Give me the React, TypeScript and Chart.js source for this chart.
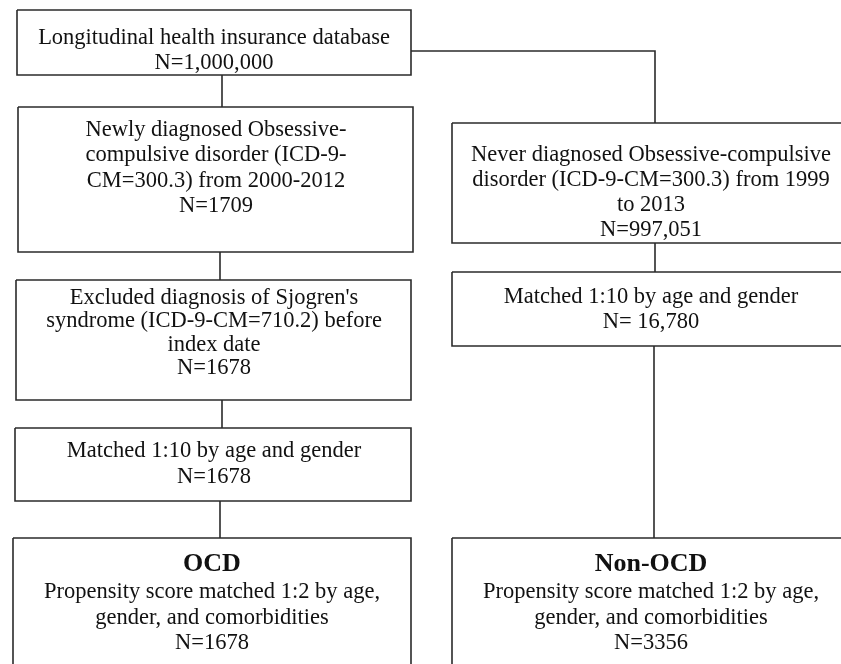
import React, { useEffect, useRef } from "react";
import { Chart, registerables } from "chart.js";

Chart.register(...registerables);

// ---- Content (data) ----
const stageTexts: string[][] = [
  ["Longitudinal health insurance database"],
  ["Newly diagnosed Obsessive-", "compulsive disorder (ICD-9-", "CM=300.3) from 2000-2012"],
  ["Excluded diagnosis of Sjogren's", "syndrome (ICD-9-CM=710.2) before", "index date"],
  ["Matched 1:10 by age and gender"],
  ["Propensity score matched 1:2 by age,", "gender, and comorbidities"],
  ["Never diagnosed Obsessive-compulsive", "disorder (ICD-9-CM=300.3) from 1999", "to 2013"],
  ["Matched 1:10 by age and gender"],
  ["Propensity score matched 1:2 by age,", "gender, and comorbidities"],
];
const stageCounts: string[] = [
  "N=1,000,000",
  "N=1709",
  "N=1678",
  "N=1678",
  "N=1678",
  "N=997,051",
  "N= 16,780",
  "N=3356",
];
const stageHeaders: string[] = ["", "", "", "", "OCD", "", "", "Non-OCD"];

// ---- Layout (geometry, in canvas units) ----
// [x0, y0, x1, y1, textCenterX, firstLineY, lineHeight]
const boxLayout: number[][] = [
  [17, 10, 411, 75, 214, 38, 25],
  [18, 107, 413, 252, 216, 130, 25.5],
  [16, 280, 411, 400, 214, 298, 23.5],
  [15, 428, 411, 501, 214, 451, 26],
  [13, 538, 411, 680, 212, 564, 25.5],
  [452, 123, 850, 243, 651, 155, 25],
  [452, 272, 850, 346, 651, 297, 25],
  [452, 538, 850, 680, 651, 564, 25.5],
];
const connectors: number[][][] = [
  [[222, 75], [222, 107]],
  [[411, 51], [655, 51], [655, 123]],
  [[220, 252], [220, 280]],
  [[222, 400], [222, 428]],
  [[220, 501], [220, 538]],
  [[655, 243], [655, 272]],
  [[654, 346], [654, 538]],
];

const W = 841;
const H = 664;
const LINE_COLOR = "#2b2b2b";
const TEXT_COLOR = "#111111";
const FONT = '"Liberation Serif", "Times New Roman", serif';

export default function App() {
  const ref = useRef<HTMLCanvasElement | null>(null);

  useEffect(() => {
    const canvas = ref.current;
    if (!canvas) return;

    const datasets: any[] = [];
    boxLayout.forEach((b) => {
      const [x0, y0, x1, y1] = b;
      datasets.push({
        data: [
          { x: x0, y: y0 },
          { x: x1, y: y0 },
          { x: x1, y: y1 },
          { x: x0, y: y1 },
          { x: x0, y: y0 },
        ],
        showLine: true,
        borderColor: LINE_COLOR,
        borderWidth: 1.6,
        pointRadius: 0,
        fill: false,
        tension: 0,
      });
    });
    connectors.forEach((c) => {
      datasets.push({
        data: c.map(([x, y]) => ({ x, y })),
        showLine: true,
        borderColor: LINE_COLOR,
        borderWidth: 1.6,
        pointRadius: 0,
        fill: false,
        tension: 0,
      });
    });

    const textPlugin = {
      id: "boxText",
      afterDatasetsDraw(chart: any) {
        const ctx = chart.ctx;
        const xs = chart.scales.x;
        const ys = chart.scales.y;
        ctx.save();
        ctx.fillStyle = TEXT_COLOR;
        ctx.textAlign = "center";
        ctx.textBaseline = "middle";
        boxLayout.forEach((b, i) => {
          const cx = xs.getPixelForValue(b[4]);
          let y = b[5];
          const lh = b[6];
          if (stageHeaders[i]) {
            ctx.font = `bold 26px ${FONT}`;
            ctx.fillText(stageHeaders[i], cx, ys.getPixelForValue(y));
            y += lh + 3;
          }
          ctx.font = `22.5px ${FONT}`;
          stageTexts[i].forEach((line) => {
            ctx.fillText(line, cx, ys.getPixelForValue(y));
            y += lh;
          });
          ctx.fillText(stageCounts[i], cx, ys.getPixelForValue(y));
        });
        ctx.restore();
      },
    };

    const chart = new Chart(canvas, {
      type: "scatter",
      data: { datasets },
      options: {
        animation: false,
        responsive: false,
        maintainAspectRatio: false,
        layout: { padding: 0 },
        plugins: { legend: { display: false }, tooltip: { enabled: false } },
        scales: {
          x: { type: "linear", min: 0, max: W, display: false },
          y: { type: "linear", min: 0, max: H, reverse: true, display: false },
        },
      },
      plugins: [textPlugin],
    });
    return () => chart.destroy();
  }, []);

  return (
    <div style={{ position: "fixed", left: 0, top: 0, width: W, height: H, background: "#ffffff" }}>
      <canvas ref={ref} width={W} height={H} style={{ width: W, height: H, display: "block" }} />
    </div>
  );
}
